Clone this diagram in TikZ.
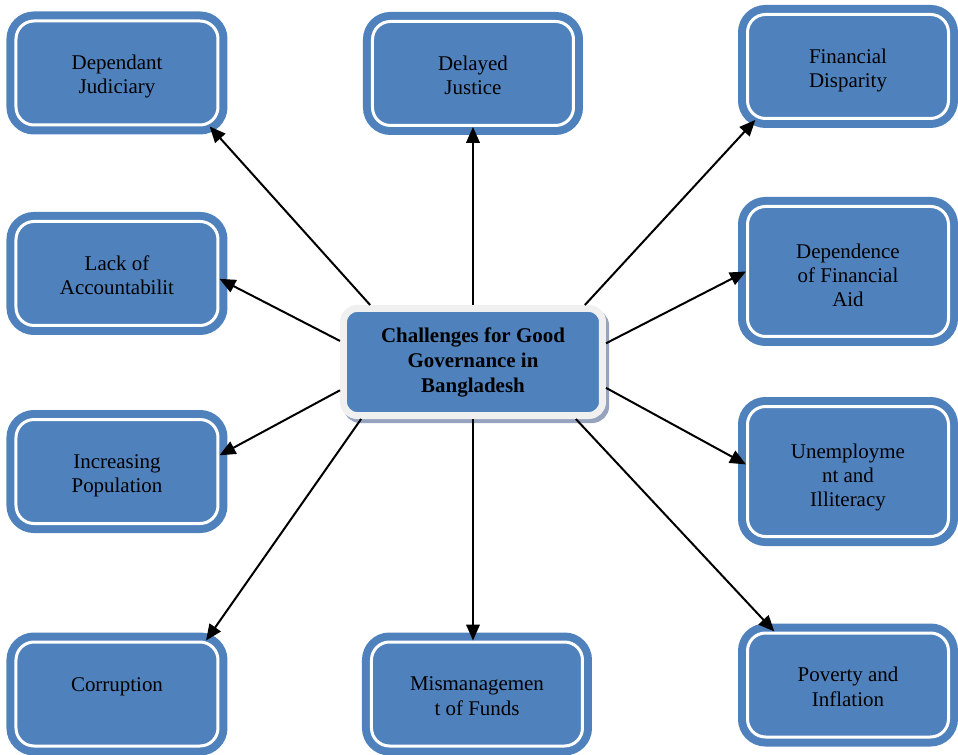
\documentclass[tikz,border=0pt]{standalone}
\usepackage{fontspec}
\setmainfont{Liberation Serif}
\usepackage{tikz}
\usetikzlibrary{arrows.meta}
\definecolor{boxblue}{RGB}{79, 129, 189}
\definecolor{hubrim}{RGB}{240, 240, 240}
\definecolor{hubshade}{RGB}{150, 163, 190}

\tikzset{
  issue/.style={rectangle, rounded corners=0.45cm, fill=boxblue, draw=white, line width=0.075cm,
                preaction={draw=boxblue, line width=0.475cm},
                inner sep=0pt, minimum width=5.05cm, align=center,
                text height=1.825cm, text depth=0.775cm,
                font=\fontsize{14.9}{17.1}\selectfont},
  short issue/.style={issue, text height=1.225cm, text depth=1.375cm},
  tall issue/.style={issue, text height=2.5cm, text depth=0.75cm},
  hub/.style={rectangle, rounded corners=0.34cm, fill=boxblue, draw=hubrim, line width=0.175cm,
              preaction={draw=hubshade, fill=hubshade, line width=0.175cm,
                         transform canvas={xshift=0.08cm, yshift=-0.1cm}},
              inner sep=0pt, minimum width=6.475cm, minimum height=2.675cm, align=center,
              font=\fontsize{14.9}{17.8}\selectfont\bfseries},
  link/.style={line width=0.05cm, -{Triangle[length=0.4cm, width=0.34cm]}}
}

\begin{document}
\begin{tikzpicture}
            % Frame to ensure alignment:
            \useasboundingbox                                         (-11.825, -9.825) rectangle (12.125, 9.05);
            \node[hub]                              (hub)   at ( 0.000,  0.000) {Challenges for Good\\Governance in\\Bangladesh};

            \node[issue]                            (dj)    at (-8.900,  7.225) {Dependant\\Judiciary};
            \node[issue]                            (lack)  at (-8.900,  2.213) {Lack of\\Accountabilit};
            \node[issue]                            (incr)  at (-8.900, -2.738) {Increasing\\Population};
            \node[short issue]                      (corr)  at (-8.900, -8.300) {Corruption};

            \node[issue, minimum width=5.025cm]     (just)  at ( 0.000,  7.213) {Delayed\\Justice};
            \node[issue, minimum width=5.275cm]     (mism)  at ( 0.100, -8.300) {Mismanagemen\\t of Funds};

            \node[issue, minimum width=5.025cm]     (fdis)  at ( 9.375,  7.388) {Financial\\Disparity};
            \node[tall issue, minimum width=5.025cm](dep)   at ( 9.375,  2.263) {Dependence\\of Financial\\Aid};
            \node[tall issue, minimum width=5.025cm](unemp) at ( 9.375, -2.738) {Unemployme\\nt and\\Illiteracy};
            \node[issue, minimum width=5.025cm]     (pov)   at ( 9.375, -8.075) {Poverty and\\Inflation};

            \draw[link] (hub.151.0)  -- (dj.-30.9);
            \draw[link] (hub.north)  -- (just.south);
            \draw[link] (hub.27.0)   -- (fdis.-150.5);
            \draw[link] (hub.171.4)  -- (lack.-3.0);
            \draw[link] (hub.8.8)    -- (dep.west);
            \draw[link] (hub.-168.4) -- (incr.9.6);
            \draw[link] (hub.-11.3)  -- (unemp.176.2);
            \draw[link] (hub.-153.0) -- (corr.31.1);
            \draw[link] (hub.south)  -- (hub.south |- mism.north);
            \draw[link] (hub.-29.5)  -- (pov.144.5);
        \end{tikzpicture}
\end{document}
